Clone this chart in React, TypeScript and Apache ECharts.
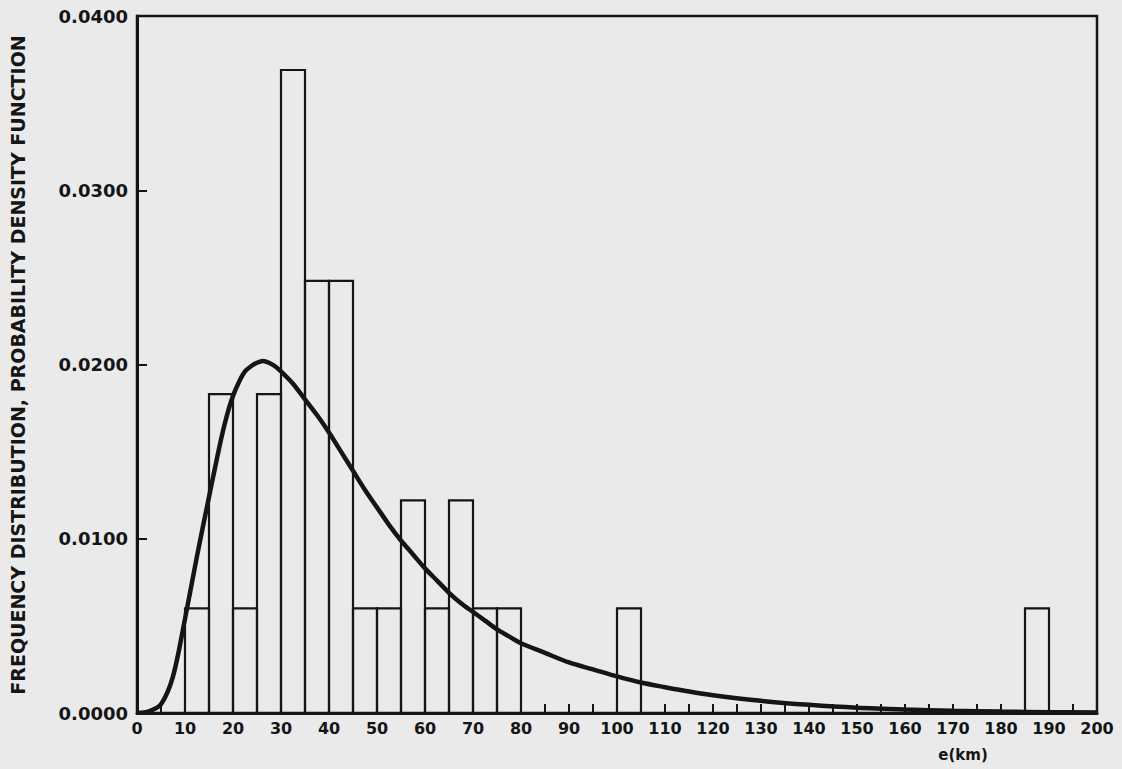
import React, { useEffect, useRef } from "react";
import * as echarts from "echarts";

// Histogram bins (km), width 5 km
const binWidth = 5;
const binStarts = [10, 15, 20, 25, 30, 35, 40, 45, 50, 55, 60, 65, 70, 75, 100, 185];
const binFreq = [
  0.006, 0.0183, 0.006, 0.0183, 0.0369, 0.0248, 0.0248, 0.006, 0.006, 0.0122, 0.006,
  0.0122, 0.006, 0.006, 0.006, 0.006,
];

// Fitted probability density curve
const curveX = [
  0, 2.5, 5, 7.5, 10, 12.5, 15, 17.5, 18.75, 20, 21.25, 22.5, 23.75, 25, 26.25, 27.5, 28.75,
  30, 32.5, 35, 37.5, 40, 42.5, 45, 47.5, 50, 52.5, 55, 57.5, 60, 62.5, 65, 67.5, 70, 72.5,
  75, 77.5, 80, 85, 90, 95, 100, 105, 110, 115, 120, 130, 140, 150, 160, 170, 180, 190, 200,
];
const curveY = [
  0.0, 0.0001, 0.0005, 0.0021, 0.0054, 0.009, 0.0124, 0.0157, 0.0171, 0.0182, 0.019,
  0.0196, 0.0199, 0.0201, 0.0202, 0.0201, 0.0199, 0.0196, 0.0189, 0.018, 0.0171, 0.0161,
  0.015, 0.0139, 0.0128, 0.0118, 0.0108, 0.0099, 0.0091, 0.0083, 0.0076, 0.0069, 0.0063,
  0.0058, 0.0053, 0.0048, 0.0044, 0.004, 0.00345, 0.0029, 0.0025, 0.0021, 0.00175, 0.00148,
  0.00123, 0.00102, 0.0007, 0.00047, 0.0003, 0.0002, 0.00013, 0.00008, 0.00005, 0.00003,
];

const yTitle = "FREQUENCY DISTRIBUTION, PROBABILITY DENSITY FUNCTION";
const xTitle = "e(km)";

const INK = "#151515";
const FONT = "'DejaVu Sans', sans-serif";

export default function App() {
  const ref = useRef<HTMLDivElement>(null);

  useEffect(() => {
    if (!ref.current) return;
    const chart = echarts.init(ref.current, null, { renderer: "svg" });
    const bars = binStarts.map((s, i) => [s, s + binWidth, binFreq[i]]);
    const curve = curveX.map((x, i) => [x, curveY[i]]);

    chart.setOption({
      animation: false,
      backgroundColor: "#eaeaea",
      grid: {
        left: 137,
        top: 16,
        right: 25,
        bottom: 56,
        show: true,
        borderColor: INK,
        borderWidth: 2.5,
        backgroundColor: "transparent",
      },
      xAxis: {
        type: "value",
        min: 0,
        max: 200,
        interval: 10,
        axisLine: { show: true, lineStyle: { color: INK, width: 3 } },
        axisTick: { show: true, inside: true, length: 9, lineStyle: { color: INK, width: 2 } },
        minorTick: { show: true, splitNumber: 2, length: 9, lineStyle: { color: INK, width: 2 } },
        splitLine: { show: false },
        minorSplitLine: { show: false },
        axisLabel: {
          color: INK,
          fontSize: 16,
          fontWeight: "bold",
          fontFamily: FONT,
          margin: 7,
        },
      },
      yAxis: {
        type: "value",
        min: 0,
        max: 0.04,
        interval: 0.01,
        axisLine: { show: true, lineStyle: { color: INK, width: 3 } },
        axisTick: { show: true, inside: true, length: 10, lineStyle: { color: INK, width: 2 } },
        splitLine: { show: false },
        axisLabel: {
          color: INK,
          fontSize: 18,
          fontWeight: "bold",
          fontFamily: FONT,
          margin: 9,
          formatter: (v: number) => v.toFixed(4),
        },
      },
      graphic: [
        {
          type: "text",
          x: 18,
          y: 365,
          rotation: Math.PI / 2,
          style: {
            text: yTitle,
            fill: INK,
            font: `bold 19px ${FONT}`,
            textAlign: "center",
            textVerticalAlign: "middle",
          },
        },
        {
          type: "text",
          x: 963,
          y: 755,
          style: {
            text: xTitle,
            fill: INK,
            font: `bold 15px ${FONT}`,
            textAlign: "center",
            textVerticalAlign: "middle",
          },
        },
      ],
      series: [
        {
          type: "custom",
          data: bars,
          encode: { x: [0, 1], y: 2 },
          renderItem: (params: any, api: any) => {
            const x0 = api.value(0);
            const x1 = api.value(1);
            const y = api.value(2);
            const p0 = api.coord([x0, y]);
            const p1 = api.coord([x1, 0]);
            return {
              type: "rect",
              shape: { x: p0[0], y: p0[1], width: p1[0] - p0[0], height: p1[1] - p0[1] },
              style: { fill: "none", stroke: INK, lineWidth: 2.2 },
            };
          },
          z: 2,
        },
        {
          type: "line",
          data: curve,
          smooth: 0.3,
          showSymbol: false,
          lineStyle: { color: INK, width: 4.5 },
          z: 3,
        },
      ],
    });
    return () => chart.dispose();
  }, []);

  return (
    <div
      ref={ref}
      style={{ position: "fixed", left: 0, top: 0, width: 1122, height: 769 }}
    />
  );
}
